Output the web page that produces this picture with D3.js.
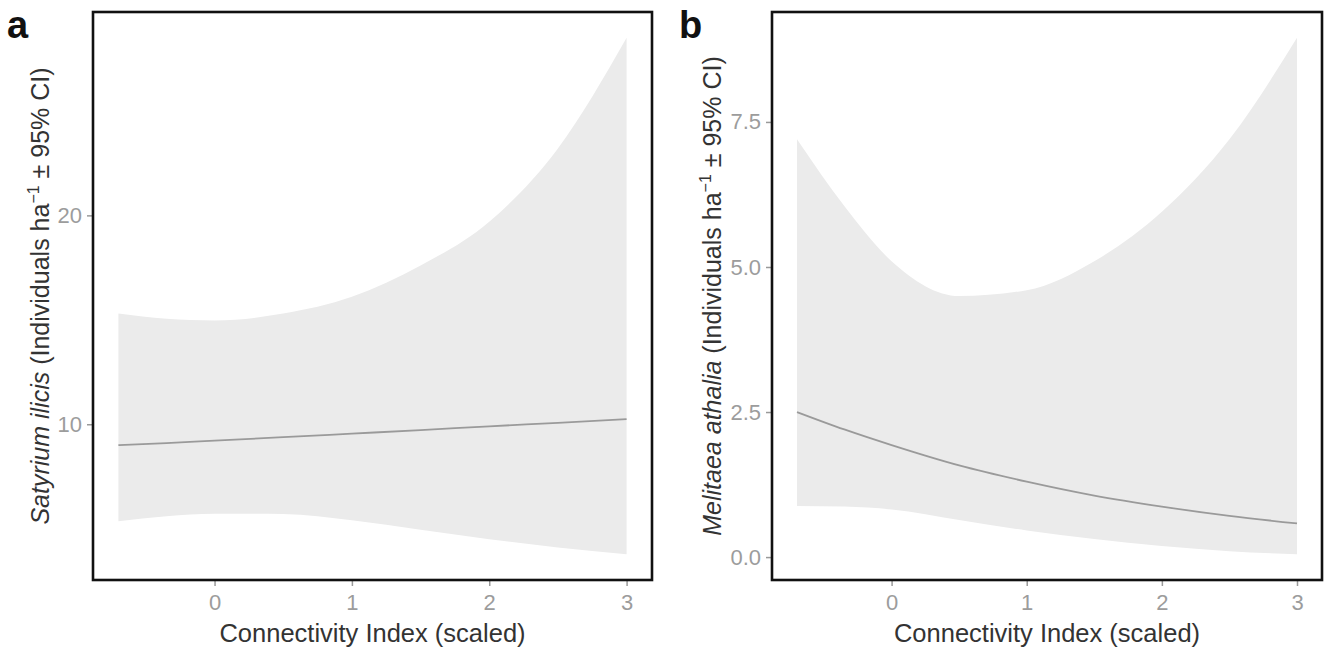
<!DOCTYPE html>
<html>
<head>
<meta charset="utf-8">
<script src="https://cdn.jsdelivr.net/npm/d3@7"></script>
<style>
  body { margin: 0; background: #fff; }
  text { font-family: "Liberation Sans", Arial, sans-serif; }
</style>
</head>
<body>
<svg id="chart" width="1325" height="649"></svg>
<script>
// connectivity values (scaled) where the fitted curves were read
var connectivity = [-0.7, -0.35, 0, 0.5, 1, 1.5, 2, 2.5, 3];
var xTicks = [0, 1, 2, 3];

// panel a: Satyrium ilicis
var ilicisFit   = [9.0, 9.1, 9.22, 9.38, 9.55, 9.72, 9.9, 10.07, 10.25];
var ilicisLower = [5.36, 5.6, 5.72, 5.7, 5.4, 4.95, 4.5, 4.1, 3.78];
var ilicisUpper = [15.3, 15.05, 14.97, 15.3, 16.1, 17.6, 19.7, 23.2, 28.5];
var ilicisTicks = [10, 20];

// panel b: Melitaea athalia
var athaliaFit   = [2.5, 2.2, 1.93, 1.58, 1.3, 1.06, 0.87, 0.71, 0.58];
var athaliaLower = [0.88, 0.87, 0.82, 0.64, 0.46, 0.31, 0.19, 0.1, 0.05];
var athaliaUpper = [7.2, 6.05, 5.1, 4.5, 4.6, 5.1, 5.95, 7.2, 8.95];
var athaliaTicks = [0, 2.5, 5, 7.5];

var svg = d3.select('#chart');

// ggplot style 5% expansion of the data range
function expand(ext) {
    var pad = (ext[1] - ext[0]) * 0.05;
    return [ext[0] - pad, ext[1] + pad];
}

function drawPanel(opts) {
    var left = opts.left, right = opts.right, top = 12, bottom = 580;
    var g = svg.append('g');

    var x = d3.scaleLinear().domain(expand(d3.extent(connectivity))).range([left, right]);
    var y = d3.scaleLinear()
        .domain(expand([d3.min(opts.lower), d3.max(opts.upper)]))
        .range([bottom, top]);

    var rows = connectivity.map(function(c, i) {
        return { x: c, fit: opts.fit[i], lo: opts.lower[i], hi: opts.upper[i] };
    });

    g.append('path').datum(rows)
        .attr('fill', '#ebebeb')
        .attr('d', d3.area().curve(d3.curveMonotoneX)
            .x(function(d) { return x(d.x); })
            .y0(function(d) { return y(d.lo); })
            .y1(function(d) { return y(d.hi); }));

    g.append('path').datum(rows)
        .attr('fill', 'none')
        .attr('stroke', '#9a9a9a')
        .attr('stroke-width', 1.8)
        .attr('d', d3.line().curve(d3.curveMonotoneX)
            .x(function(d) { return x(d.x); })
            .y(function(d) { return y(d.fit); }));

    // axes
    var xAxis = g.append('g').attr('transform', 'translate(0,' + bottom + ')')
        .call(d3.axisBottom(x).tickValues(xTicks).tickFormat(d3.format('d'))
            .tickSize(6).tickSizeOuter(0).tickPadding(8));
    var yAxis = g.append('g').attr('transform', 'translate(' + left + ',0)')
        .call(d3.axisLeft(y).tickValues(opts.ticks).tickFormat(opts.fmt)
            .tickSize(6).tickSizeOuter(0).tickPadding(5));
    [xAxis, yAxis].forEach(function(ax) {
        ax.select('.domain').remove();
        ax.selectAll('line').attr('stroke', '#999').attr('stroke-width', 1.5);
        ax.selectAll('text').attr('fill', '#9c9c9c').style('font-size', '22px')
            .style('font-family', '"Liberation Sans", Arial, sans-serif');
    });

    // frame
    g.append('rect')
        .attr('x', left).attr('y', top)
        .attr('width', right - left).attr('height', bottom - top)
        .attr('fill', 'none').attr('stroke', '#111').attr('stroke-width', 2.6);

    g.append('text')
        .attr('x', (left + right) / 2).attr('y', 642)
        .attr('text-anchor', 'middle')
        .attr('fill', '#333').style('font-size', '25.5px')
        .text('Connectivity Index (scaled)');

    var yt = g.append('text')
        .attr('transform', 'translate(' + opts.titleX + ',' + ((top + bottom) / 2) + ') rotate(-90)')
        .attr('text-anchor', 'middle')
        .attr('fill', '#333').style('font-size', '25px');
    yt.append('tspan').style('font-style', 'italic').text(opts.species);
    yt.append('tspan').text(' (Individuals ha');
    yt.append('tspan').attr('dy', -10).style('font-size', '16px').text('\u22121');
    yt.append('tspan').attr('dy', 10).text(' \u00b1 95% CI)');

    g.append('text')
        .attr('x', opts.tagX).attr('y', 38)
        .attr('fill', '#111').style('font-size', '38px').style('font-weight', 'bold')
        .text(opts.tag);
}

drawPanel({
    left: 93, right: 652, tag: 'a', tagX: 7, titleX: 49,
    species: 'Satyrium ilicis',
    fit: ilicisFit, lower: ilicisLower, upper: ilicisUpper,
    ticks: ilicisTicks, fmt: d3.format('d')
});

drawPanel({
    left: 772, right: 1322, tag: 'b', tagX: 679, titleX: 721,
    species: 'Melitaea athalia',
    fit: athaliaFit, lower: athaliaLower, upper: athaliaUpper,
    ticks: athaliaTicks, fmt: d3.format('.1f')
});
</script>
</body>
</html>
